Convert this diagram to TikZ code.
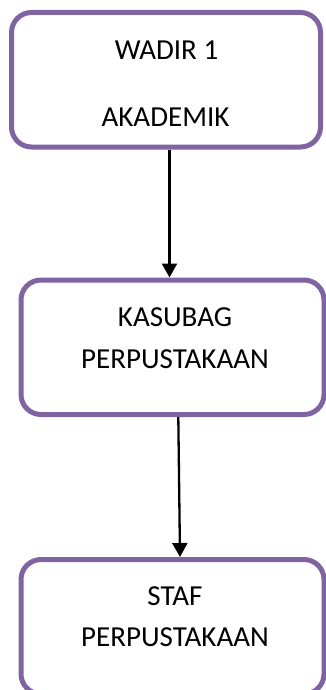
\documentclass[tikz,border=0pt]{standalone}
\usepackage{fontspec}
\setmainfont{Carlito}
\usetikzlibrary{arrows.meta}
\definecolor{boxpurple}{HTML}{8064A2}
\tikzset{
  orgbox/.style={draw=boxpurple, line width=5pt, rounded corners=20pt, fill=white, inner sep=0pt, minimum height=134.5pt},
  lbl/.style={anchor=base, inner sep=0pt, font=\fontsize{29}{33}\selectfont, text=black},
  conn/.style={line width=2.3pt, -{Triangle[width=15pt,length=14pt]}}
}
\begin{document}
\begin{tikzpicture}
\useasboundingbox (0,0) rectangle (326pt,-690pt);
\node[orgbox, minimum width=309pt] (b1) at (166pt,-79.75pt) {};
\node[orgbox, minimum width=303pt] (b2) at (172.5pt,-347.25pt) {};
\node[orgbox, minimum width=303pt] (b3) at (172.5pt,-626.75pt) {};
\node[lbl] (t1a) at (166.5pt,-60pt) {WADIR 1};
\node[lbl] (t1b) at (165.5pt,-127pt) {AKADEMIK};
\node[lbl] (t2a) at (175pt,-326.7pt) {KASUBAG};
\node[lbl] (t2b) at (175pt,-368pt) {PERPUSTAKAAN};
\node[lbl] (t3a) at (175pt,-605.7pt) {STAF};
\node[lbl] (t3b) at (175pt,-646.7pt) {PERPUSTAKAAN};
\draw[conn] ([xshift=3.5pt]b1.south) -- ([xshift=-3pt]b2.north);
\draw[conn] ([xshift=5.8pt]b2.south) -- ([xshift=7.5pt]b3.north);
\end{tikzpicture}
\end{document}
